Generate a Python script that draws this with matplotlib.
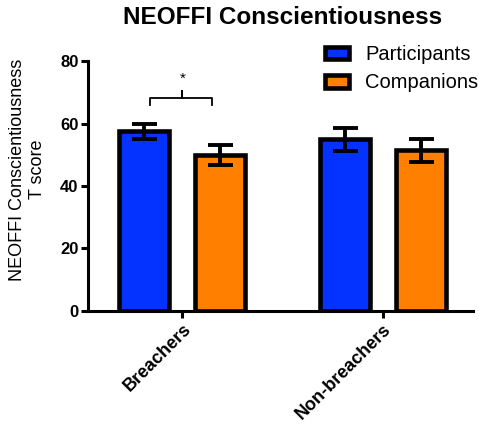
import matplotlib.pyplot as plt
import numpy as np

plt.rcParams['font.family'] = ['Liberation Sans', 'DejaVu Sans']

groups = ["Breachers", "Non-breachers"]
participants = [57.6, 55.0]
participants_err = [2.4, 3.7]
companions = [49.9, 51.5]
companions_err = [3.1, 3.7]

fig = plt.figure(figsize=(4.79, 4.3), dpi=100)
ax = fig.add_axes([0.184, 0.277, 0.803, 0.581])

x = np.arange(len(groups))
w = 0.25
off = 0.19
ekw = dict(elinewidth=2.8, capthick=2.8, capsize=9, ecolor="black")
ax.bar(x - off, participants, w, yerr=participants_err, color="#0433ff",
       edgecolor="black", linewidth=3.3, label="Participants", error_kw=ekw)
ax.bar(x + off, companions, w, yerr=companions_err, color="#ff8000",
       edgecolor="black", linewidth=3.3, label="Companions", error_kw=ekw)

# significance bracket
bx0, bx1, by = -0.16, 0.15, 68.2
ax.plot([bx0, bx0, 0, 0, 0, bx1, bx1], [66, by, by, 70.5, by, by, 66],
        color="black", lw=1.3)
ax.text(0, 72, "*", ha="center", va="bottom", fontsize=11)

ax.set_xlim(-0.47, 1.45)
ax.set_ylim(0, 80)
ax.set_yticks([0, 20, 40, 60, 80])
ax.set_xticks(x)
ax.set_xticklabels(groups, rotation=45, ha="right", rotation_mode="anchor",
                   fontsize=13, fontweight="bold")
for lab in ax.get_yticklabels():
    lab.set_fontweight("bold")
    lab.set_fontsize(12)
for s in ["top", "right"]:
    ax.spines[s].set_visible(False)
for s in ["left", "bottom"]:
    ax.spines[s].set_linewidth(2.2)
ax.tick_params(width=2.2, length=5, pad=2)
ax.set_ylabel("NEOFFI Conscientiousness\nT score", fontsize=13)
ax.yaxis.set_label_coords(-0.11, 0.565)
fig.suptitle("NEOFFI Conscientiousness", x=0.59, y=0.985, fontsize=17.5,
             fontweight="bold")
fig.legend(loc="upper left", bbox_to_anchor=(0.678, 0.895), frameon=False,
           fontsize=14.5, handlelength=1.2, handleheight=0.6,
           labelspacing=0.45, borderpad=0, borderaxespad=0, handletextpad=0.8)

fig.savefig("out.png", dpi=100)
